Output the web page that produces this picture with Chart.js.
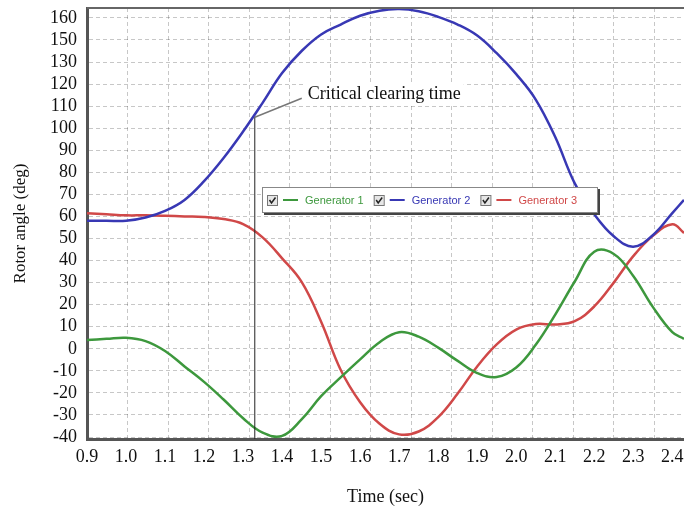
<!DOCTYPE html>
<html>
<head>
<meta charset="utf-8">
<script src="https://cdn.jsdelivr.net/npm/chart.js@4"></script>
<style>
  body { margin: 0; background: #fff; }
  #wrap { width: 684px; height: 508px; }
</style>
</head>
<body>
<div id="wrap"><canvas id="rotor" width="684" height="508"></canvas></div>
<script>
// time axis samples (sec)
const times = [0.90, 0.95, 1.00, 1.05, 1.10, 1.15, 1.20, 1.25, 1.30, 1.35, 1.40, 1.45, 1.50, 1.55, 1.60, 1.65,
  1.70, 1.75, 1.80, 1.85, 1.90, 1.95, 2.00, 2.05, 2.10, 2.15, 2.20, 2.25, 2.30, 2.35, 2.40, 2.43];

// rotor angles (deg)
const gen1 = [4, 4.5, 5, 3.5, -1, -8, -15, -23, -31.5, -38, -39.5, -32, -21.5, -13, -4.8, 3,
  7.5, 5.5, 0.5, -5.5, -11, -12.8, -8.5, 1.8, 15.5, 30.5, 44, 43, 33, 19, 7.5, 4.5];
const gen2 = [58, 58, 58, 59.5, 62.5, 67.5, 76, 86.5, 98.5, 111.5, 125, 135, 142.5, 147, 151, 153.3,
  154, 153, 150.5, 147, 142, 134, 124.5, 113, 96, 75, 61, 51, 46.3, 51.5, 61.5, 67.5];
const gen3 = [61.5, 61, 60.5, 60.5, 60.3, 60, 59.8, 58.8, 56.5, 50.5, 41, 30.3, 12.3, -9.5, -24.2, -34,
  -38.8, -37.5, -31, -20.3, -8, 2, 8.7, 11.2, 11, 12.5, 19.2, 30, 42, 51.2, 56.5, 52.5];

const seriesNames = ['Generator 1', 'Generator 2', 'Generator 3'];
const seriesColors = ['#3d983d', '#3838b4', '#d04848'];

// tick labels as printed on the figure (note: no 140 label)
const xTickValues = [0.9, 1.0, 1.1, 1.2, 1.3, 1.4, 1.5, 1.6, 1.7, 1.8, 1.9, 2.0, 2.1, 2.2, 2.3, 2.4];
const xTickLabels = ['0.9', '1.0', '1.1', '1.2', '1.3', '1.4', '1.5', '1.6', '1.7', '1.8', '1.9', '2.0', '2.1', '2.2', '2.3', '2.4'];
const yTickValues = [-40, -30, -20, -10, 0, 10, 20, 30, 40, 50, 60, 70, 80, 90, 100, 110, 120, 130, 140, 150];
const yTickLabels = ['-40', '-30', '-20', '-10', '0', '10', '20', '30', '40', '50', '60', '70', '80', '90', '100', '110', '120', '130', '150', '160'];

const criticalTime = 1.33;
const criticalAngle = 105;

const serif = '"Liberation Serif", "Times New Roman", serif';
const gridDash = [4, 3];
const gridColor = 'rgba(0,0,0,0.22)';

function toPoints(values) {
  return times.map((t, i) => ({ x: t, y: values[i] }));
}

// plot frame top edge
const frameTop = {
  id: 'frameTop',
  afterDraw(chart) {
    const { ctx, chartArea } = chart;
    ctx.save();
    ctx.strokeStyle = '#666';
    ctx.lineWidth = 2;
    ctx.beginPath();
    ctx.moveTo(chartArea.left, chartArea.top);
    ctx.lineTo(chartArea.right, chartArea.top);
    ctx.stroke();
    ctx.restore();
  },
};

// critical clearing time marker
const criticalMarker = {
  id: 'criticalMarker',
  afterDatasetsDraw(chart) {
    const { ctx, chartArea, scales } = chart;
    const px = scales.x.getPixelForValue(criticalTime);
    const py = scales.y.getPixelForValue(criticalAngle);
    ctx.save();
    ctx.strokeStyle = '#222';
    ctx.lineWidth = 1;
    ctx.beginPath();
    ctx.moveTo(px, py);
    ctx.lineTo(px, chartArea.bottom);
    ctx.stroke();
    ctx.strokeStyle = '#777';
    ctx.lineWidth = 1.5;
    ctx.beginPath();
    ctx.moveTo(px, py);
    ctx.lineTo(px + 47, py - 19);
    ctx.stroke();
    ctx.font = '18px ' + serif;
    const label = 'Critical clearing time';
    const w = ctx.measureText(label).width;
    ctx.fillStyle = '#fff';
    ctx.fillRect(px + 50, py - 34, w + 6, 22);
    ctx.fillStyle = '#111';
    ctx.textBaseline = 'middle';
    ctx.fillText(label, px + 53, py - 23);
    ctx.restore();
  },
};

// legend box drawn inside the plot
const legendBox = {
  id: 'legendBox',
  afterDatasetsDraw(chart) {
    const { ctx, chartArea } = chart;
    const x0 = chartArea.left + 175;
    const y0 = chartArea.top + 179;
    const w = 336;
    const h = 26;
    const cy = y0 + h / 2;
    ctx.save();
    ctx.fillStyle = '#444';
    ctx.fillRect(x0 + 2, y0 + 2, w, h);
    ctx.fillStyle = '#fff';
    ctx.fillRect(x0, y0, w, h);
    ctx.strokeStyle = '#888';
    ctx.lineWidth = 1;
    ctx.strokeRect(x0 + 0.5, y0 + 0.5, w - 1, h - 1);
    ctx.font = '11px "Liberation Sans", Arial, sans-serif';
    ctx.textBaseline = 'middle';
    let x = x0 + 5;
    chart.data.datasets.forEach((ds) => {
      // checkbox
      ctx.fillStyle = '#e6e6e6';
      ctx.fillRect(x, cy - 5, 10, 10);
      ctx.strokeStyle = '#777';
      ctx.lineWidth = 1;
      ctx.strokeRect(x + 0.5, cy - 4.5, 10, 10);
      ctx.strokeStyle = '#222';
      ctx.lineWidth = 1.5;
      ctx.beginPath();
      ctx.moveTo(x + 2.5, cy);
      ctx.lineTo(x + 4.5, cy + 3);
      ctx.lineTo(x + 8.5, cy - 2.5);
      ctx.stroke();
      x += 16;
      // line sample
      ctx.strokeStyle = ds.borderColor;
      ctx.lineWidth = 2;
      ctx.beginPath();
      ctx.moveTo(x, cy);
      ctx.lineTo(x + 15, cy);
      ctx.stroke();
      x += 22;
      ctx.fillStyle = ds.borderColor;
      ctx.fillText(ds.label, x, cy + 1);
      x += ctx.measureText(ds.label).width + 10;
    });
    ctx.restore();
  },
};

new Chart(document.getElementById('rotor'), {
  type: 'line',
  data: {
    datasets: [gen1, gen2, gen3].map((vals, i) => ({
      label: seriesNames[i],
      data: toPoints(vals),
      borderColor: seriesColors[i],
      borderWidth: 2.5,
      pointRadius: 0,
      tension: 0.4,
      fill: false,
      xAxisID: 'x',
      yAxisID: 'y',
    })),
  },
  options: {
    responsive: false,
    animation: false,
    layout: { padding: { top: 8, left: 0, right: 0, bottom: 0 } },
    plugins: {
      legend: { display: false },
      tooltip: { enabled: false },
    },
    scales: {
      x: {
        type: 'linear',
        position: 'bottom',
        min: 0.9,
        max: 2.43,
        afterBuildTicks: (scale) => {
          scale.ticks = xTickValues.map((v) => ({ value: v }));
        },
        afterFit: (scale) => {
          scale.height = 69;
          scale.paddingLeft = 0;
          scale.paddingRight = 0;
        },
        grid: { display: false, drawTicks: false },
        border: { display: true, color: '#555', width: 3 },
        ticks: {
          autoSkip: false,
          maxRotation: 0,
          padding: 7,
          color: '#111',
          font: { family: serif, size: 18 },
          callback: (v) => xTickLabels[xTickValues.indexOf(v)],
        },
        title: {
          display: true,
          text: 'Time (sec)',
          color: '#111',
          font: { family: serif, size: 18 },
          padding: { top: 0, bottom: 0 },
        },
      },
      xg: {
        type: 'linear',
        position: 'bottom',
        min: 0.9,
        max: 2.374,
        afterFit: (scale) => {
          scale.height = 0;
          scale.paddingLeft = 0;
          scale.paddingRight = 0;
        },
        grid: { display: true, color: gridColor, lineWidth: 1, drawTicks: false },
        border: { display: false, dash: gridDash },
        ticks: { display: false, stepSize: 0.1, includeBounds: false },
      },
      y: {
        type: 'linear',
        min: -40.9,
        max: 154.5,
        afterBuildTicks: (scale) => {
          scale.ticks = yTickValues.map((v) => ({ value: v }));
        },
        afterFit: (scale) => {
          scale.width = 87;
          scale.paddingTop = 0;
          scale.paddingBottom = 0;
        },
        grid: { color: gridColor, lineWidth: 1, drawTicks: false },
        border: { display: true, color: '#555', width: 3, dash: gridDash },
        ticks: {
          autoSkip: false,
          padding: 10,
          color: '#111',
          font: { family: serif, size: 18 },
          callback: (v) => yTickLabels[yTickValues.indexOf(v)],
        },
        title: {
          display: true,
          text: 'Rotor angle (deg)',
          color: '#111',
          font: { family: serif, size: 17 },
          padding: { top: 10, bottom: 0 },
        },
      },
    },
  },
  plugins: [frameTop, criticalMarker, legendBox],
});
</script>
</body>
</html>
